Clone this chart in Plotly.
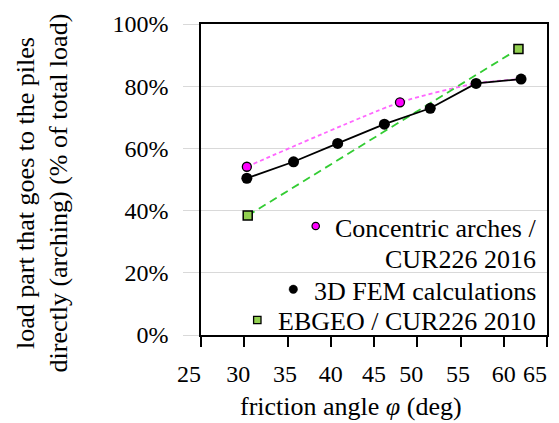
import plotly.graph_objects as go

# Data
fem_x = [30.3, 35.7, 40.8, 46.2, 51.5, 56.8, 62.0]
fem_y = [50.4, 55.7, 61.6, 67.8, 72.9, 80.9, 82.3]
arch_x = [30.3, 48.0, 56.8, 62.0]
arch_y = [54.1, 74.8, 80.9, 82.3]
arch_marker_x = [30.3, 48.0]
arch_marker_y = [54.1, 74.8]
ebgeo_x = [30.4, 61.7]
ebgeo_y = [38.4, 92.0]
x_ticks = [25, 30, 35, 40, 45, 50, 55, 60, 65]
# trailing figure/thin spaces nudge labels left like the original
x_ticklabels = ["25\u2007\u2007", "30\u2007", "35\u2009", "40", "45", "50\u2007", "55\u2009", "60", "65\u2007\u2007"]
y_ticks = [0, 20, 40, 60, 80, 100]
y_ticklabels = ["0%", "20%", "40%", "60%", "80%", "100%"]
legend_labels = ["Concentric arches /", "CUR226 2016", "3D FEM calculations", "EBGEO / CUR226 2010"]

FONT = "Liberation Serif, Times New Roman, serif"

fig = go.Figure()
fig.add_trace(go.Scatter(x=arch_x, y=arch_y, mode="lines", line=dict(color="#ff66ff", width=1.8, dash="4px,3px", shape="spline", smoothing=0.6), showlegend=False))
fig.add_trace(go.Scatter(x=ebgeo_x, y=ebgeo_y, mode="lines", line=dict(color="#33cc33", width=1.8, dash="8px,5px"), showlegend=False))
fig.add_trace(go.Scatter(x=fem_x, y=fem_y, mode="lines+markers", line=dict(color="black", width=1.8),
                         marker=dict(color="black", size=11), showlegend=False))
fig.add_trace(go.Scatter(x=arch_marker_x, y=arch_marker_y, mode="markers",
                         marker=dict(color="#ff00ff", size=9, line=dict(color="black", width=1.3)), showlegend=False))
fig.add_trace(go.Scatter(x=ebgeo_x, y=ebgeo_y, mode="markers",
                         marker=dict(color="#92d050", size=9, symbol="square", line=dict(color="black", width=1.5)), showlegend=False))

# plot area in page pixels: x 201..547, y 24..335 (page has an 8px body margin)
PW, PH = 346.0, 311.0
def px2paper(px, py):
    return (px - 201) / PW, (335 - py) / PH

# custom legend
shapes = []
def circle(cx, cy, r, fill, lw):
    x, y = px2paper(cx, cy)
    shapes.append(dict(type="circle", xref="paper", yref="paper", x0=x - r / PW, x1=x + r / PW,
                       y0=y - r / PH, y1=y + r / PH, fillcolor=fill, line=dict(color="black", width=lw)))
def square(cx, cy, r, fill, lw):
    x, y = px2paper(cx, cy)
    shapes.append(dict(type="rect", xref="paper", yref="paper", x0=x - r / PW, x1=x + r / PW,
                       y0=y - r / PH, y1=y + r / PH, fillcolor=fill, line=dict(color="black", width=lw)))
circle(315.7, 226, 3.7, "#ff00ff", 1.2)
circle(293.3, 289.3, 4.2, "black", 0.5)
square(257.3, 320, 3.7, "#92d050", 1.3)

annotations = []
for label, py in zip(legend_labels, [228, 259, 291.5, 321.5]):
    x, y = px2paper(538, py)
    annotations.append(dict(text=label, xref="paper", yref="paper", x=x, y=y, xanchor="right", yanchor="middle",
                            showarrow=False, font=dict(family=FONT, size=26, color="black")))
# axis titles
x, y = px2paper(41.5, 193)
annotations.append(dict(text="load part that goes to the piles<br>directly (arching) (% of total load)",
                        xref="paper", yref="paper", x=x, y=y, xanchor="center", yanchor="middle",
                        textangle=-90, showarrow=False, font=dict(family=FONT, size=26, color="black")))
x, y = px2paper(351, 406)
annotations.append(dict(text="friction angle <i>φ</i> (deg)", xref="paper", yref="paper", x=x, y=y,
                        xanchor="center", yanchor="middle", showarrow=False,
                        font=dict(family=FONT, size=26, color="black")))

fig.update_layout(
    width=551, height=415, margin=dict(l=193, r=12, t=16, b=88, autoexpand=False),
    paper_bgcolor="white", plot_bgcolor="white",
    font=dict(family=FONT, size=24, color="black"),
    shapes=shapes, annotations=annotations, showlegend=False,
    xaxis=dict(range=[25, 65], tickvals=x_ticks, ticktext=x_ticklabels, tickangle=0, showgrid=False,
               zeroline=False, automargin=False, showline=True, linecolor="black", linewidth=1.5, mirror=True,
               ticks="outside", ticklen=10, tickcolor="black", tickwidth=1.5,
               ticklabeloverflow="allow", ticklabelstandoff=6,
               tickfont=dict(family=FONT, size=24)),
    yaxis=dict(range=[0, 100], tickvals=y_ticks, ticktext=y_ticklabels, showgrid=True, gridcolor="#d9d9d9",
               gridwidth=1.2, zeroline=False, automargin=False, showline=True, linecolor="black",
               linewidth=1.5, mirror=True, ticklabeloverflow="allow", ticklabelstandoff=10,
               ticks="outside", ticklen=16, tickcolor="#d9d9d9", tickwidth=1.2,
               tickfont=dict(family=FONT, size=24)),
)
fig.write_html("out.html")
